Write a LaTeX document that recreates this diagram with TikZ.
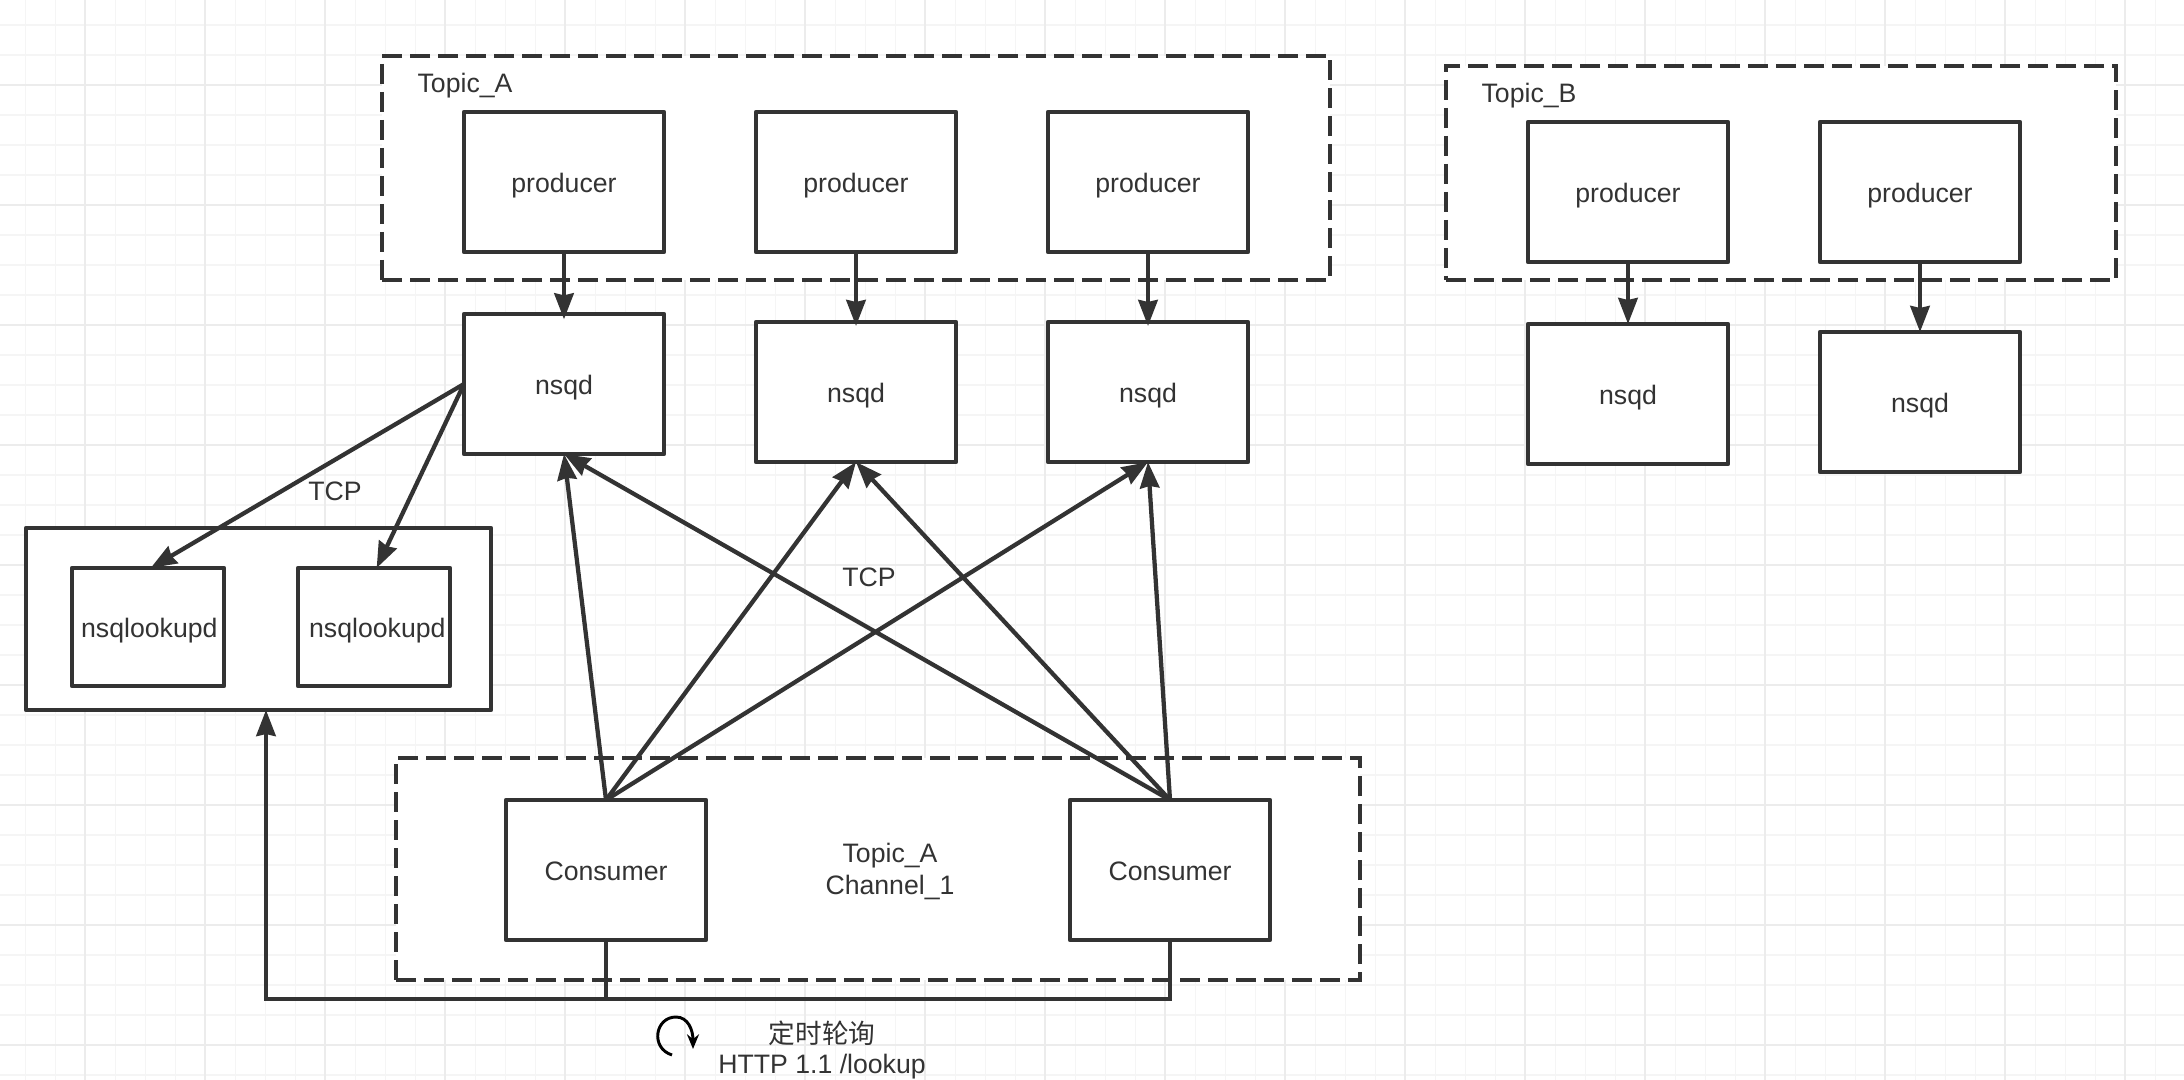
\documentclass[tikz,border=0pt]{standalone}
\usepackage{fontspec}
\setmainfont{Liberation Sans}
\newfontfamily\cjk{Noto Sans CJK SC}
\usetikzlibrary{arrows.meta}
\definecolor{ink}{HTML}{333333}
\definecolor{gridmajor}{HTML}{ECECEC}
\definecolor{gridminor}{HTML}{F5F5F5}
\tikzset{
  x=0.75pt,y=-0.75pt,
  every node/.style={font=\fontsize{20pt}{24pt}\selectfont,text=ink,align=center,inner sep=0pt,outer sep=0pt},
  bx/.style={draw=ink,line width=3.2pt,fill=white,rectangle,line join=round,text height=20pt,text depth=3.6pt},
  unit/.style={bx,minimum width=150pt,minimum height=105pt},
  lookup/.style={bx,minimum width=114pt,minimum height=88.5pt},
  group/.style={draw=ink,line width=3.2pt,fill=white,rectangle,dash pattern=on 15pt off 6pt},
  solidgroup/.style={draw=ink,line width=3.2pt,fill=white,rectangle,line join=round},
  conn/.style={draw=ink,line width=3.2pt,-{Stealth[length=19.5pt,width=14.5pt,inset=1.5pt]}},
  plain/.style={draw=ink,line width=3.2pt},
  lbl/.style={yshift=-2pt},
}
\begin{document}
\begin{tikzpicture}
\useasboundingbox (0,0) rectangle (2184,1080);
\fill[white] (0,0) rectangle (2184,1080);
% grid
\foreach \k in {0,...,72} {\draw[gridminor,line width=1.2pt] ({25.4+30*\k},0) -- ({25.4+30*\k},1080);}
\foreach \k in {0,...,35} {\draw[gridminor,line width=1.2pt] (0,{25+30*\k}) -- (2184,{25+30*\k});}
\foreach \k in {0,...,17} {\draw[gridmajor,line width=1.5pt] ({85.4+120*\k},0) -- ({85.4+120*\k},1080);}
\foreach \k in {0,...,8} {\draw[gridmajor,line width=1.5pt] (0,{85+120*\k}) -- (2184,{85+120*\k});}
% groups
\node[group,minimum width=711pt,minimum height=168pt] (gA) at (856,168) {};
\node[group,minimum width=502.5pt,minimum height=160.5pt] (gB) at (1781,173) {};
\node[solidgroup,minimum width=348.75pt,minimum height=136.5pt] (gL) at (258.5,619) {};
\node[group,minimum width=723pt,minimum height=166.5pt] (gC) at (878,869) {};
\node[lbl] (tA) at (465,83) {Topic\_A};
\node[lbl] (tB) at (1529,93) {Topic\_B};
\node[lbl,yshift=0pt] (tC) at (890,869) {Topic\_A\\Channel\_1};
% producers
\node[unit] (p1) at (564,182) {producer};
\node[unit] (p2) at (856,182) {producer};
\node[unit] (p3) at (1148,182) {producer};
\node[unit] (p4) at (1628,192) {producer};
\node[unit] (p5) at (1920,192) {producer};
% nsqd
\node[unit] (n1) at (564,384) {nsqd};
\node[unit] (n2) at (856,392) {nsqd};
\node[unit] (n3) at (1148,392) {nsqd};
\node[unit] (n4) at (1628,394) {nsqd};
\node[unit] (n5) at (1920,402) {nsqd};
% lookups
\node[lookup] (l1) at (148,627) {\hspace*{2pt}nsqlookupd};
\node[lookup] (l2) at (374,627) {\hspace*{5pt}nsqlookupd};
% consumers
\node[unit] (c1) at (606,870) {Consumer};
\node[unit] (c2) at (1170,870) {Consumer};
% connectors
\draw[conn,shorten >=-4pt] (p1.south) -- (n1.north);
\draw[conn,shorten >=-3pt] (p2.south) -- (n2.north);
\draw[conn,shorten >=-3pt] (p3.south) -- (n3.north);
\draw[conn] (p4.south) -- (n4.north);
\draw[conn] (p5.south) -- (n5.north);
\draw[conn] (n1.west) -- ([xshift=2pt]l1.north);
\draw[conn] (n1.west) -- ([xshift=2pt]l2.north);
\foreach \c in {c1,c2} \foreach \n in {n1,n2,n3} {\draw[conn] (\c.north) -- (\n.south);}
\coordinate (busL) at (266,999);
\draw[conn] (c1.south) |- (busL) -- (gL.south -| busL);
\draw[plain] (c2.south) |- (busL);
% labels
\node (tcp1) at (335,491) {TCP};
\node (tcp2) at (869,577) {TCP};
\node (poll) at (822,1050) {{\cjk 定时轮询}\\[-1pt]HTTP 1.1 /lookup};
% rotation icon
\coordinate (rotS) at (672,1055);
\coordinate (rotE) at (693,1049);
\draw[draw=black,line width=2.2pt,-{Stealth[length=11pt,width=9pt]}] (rotS) .. controls (650,1048) and (655,1017) .. (676,1017) .. controls (688,1017) and (693,1030) .. (rotE);
\end{tikzpicture}
\end{document}
